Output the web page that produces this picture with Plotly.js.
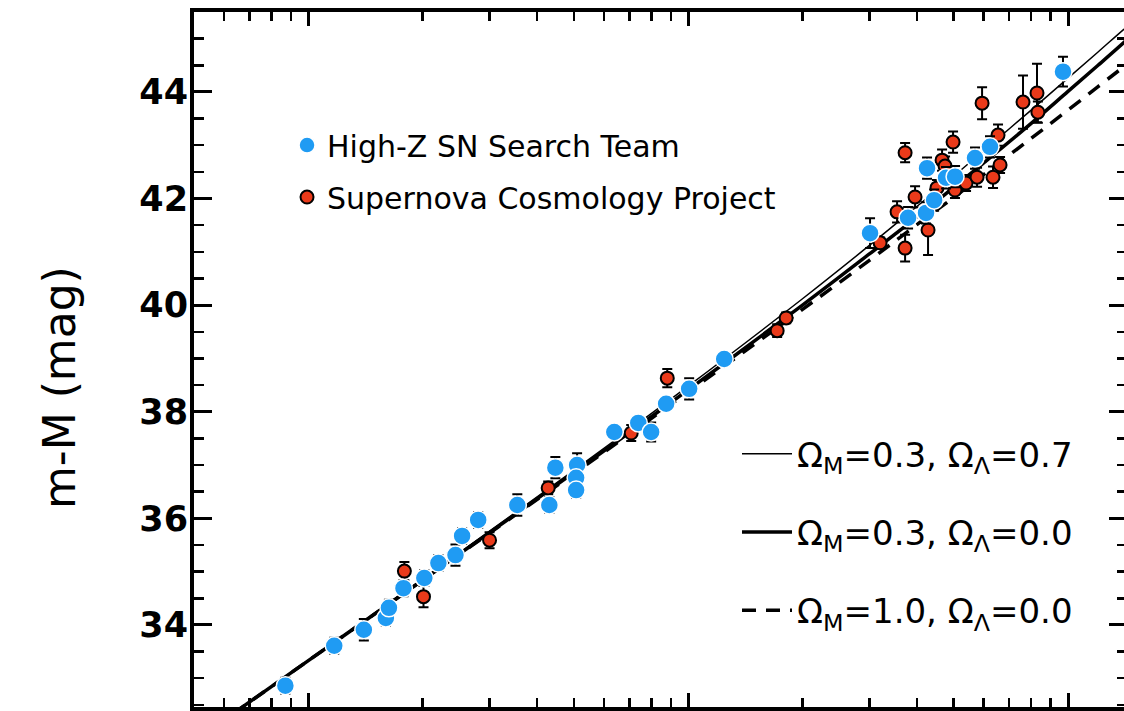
<!DOCTYPE html>
<html>
<head>
<meta charset="utf-8">
<script src="https://cdn.plot.ly/plotly-3.0.1.min.js"></script>
<style>
  html, body { margin: 0; padding: 0; overflow: hidden; background: #fff; }
  #chart { width: 1147px; height: 767px; }
</style>
</head>
<body>
<div id="chart"></div>
<script>
// High-Z SN Search Team: redshift, distance modulus, error
const hzZ   = [0.0087, 0.0117, 0.0140, 0.0160, 0.0163, 0.0178, 0.0202, 0.0220, 0.0244, 0.0254, 0.0280,
               0.0355, 0.0431, 0.0447, 0.0510, 0.0507, 0.0507, 0.0639, 0.0739, 0.0799, 0.0875, 0.1006,
               0.1244, 0.3012, 0.3793, 0.4229, 0.4441, 0.4255, 0.4775, 0.5043, 0.5691, 0.6232, 0.9701];
const hzMu  = [32.86, 33.61, 33.91, 34.13, 34.32, 34.69, 34.88, 35.16, 35.31, 35.67, 35.97,
               36.25, 36.25, 36.95, 37.00, 36.76, 36.53, 37.62, 37.79, 37.62, 38.15, 38.43,
               38.99, 41.35, 41.64, 41.73, 41.97, 42.57, 42.39, 42.41, 42.76, 42.97, 44.38];
const hzErr = [0.15, 0.15, 0.20, 0.15, 0.15, 0.15, 0.15, 0.15, 0.20, 0.15, 0.15,
               0.20, 0.15, 0.20, 0.22, 0.15, 0.15, 0.12, 0.12, 0.18, 0.12, 0.20,
               0.12, 0.28, 0.20, 0.20, 0.20, 0.20, 0.20, 0.20, 0.20, 0.20, 0.28];

// Supernova Cosmology Project: redshift, distance modulus, error
const scpZ   = [0.0179, 0.0201, 0.0300, 0.0428, 0.0708, 0.0881, 0.1715, 0.1811,
                0.3201, 0.3548, 0.3725, 0.3725, 0.3957, 0.4281, 0.4520, 0.4661, 0.4746, 0.4982,
                0.5040, 0.5390, 0.5762, 0.5940, 0.6348, 0.6543, 0.6624, 0.7613, 0.8287, 0.8331];
const scpMu  = [35.01, 34.53, 35.59, 36.57, 37.60, 38.63, 39.52, 39.76,
                41.17, 41.75, 42.86, 41.07, 42.03, 41.41, 42.20, 42.72, 42.61, 43.06,
                42.16, 42.29, 42.40, 43.79, 42.40, 43.19, 42.63, 43.81, 43.98, 43.62];
const scpErr = [0.17, 0.20, 0.15, 0.12, 0.15, 0.17, 0.12, 0.10,
                0.10, 0.20, 0.18, 0.25, 0.20, 0.47, 0.15, 0.20, 0.18, 0.20,
                0.15, 0.15, 0.18, 0.30, 0.20, 0.20, 0.15, 0.50, 0.55, 0.20];

// Model curves (distance modulus vs redshift)
const modelZ   = [0.005, 0.01, 0.02, 0.05, 0.1, 0.2, 0.3, 0.4, 0.5, 0.6, 0.8, 1.0, 1.2, 1.4, 1.6];
const lambdaMu = [31.82, 33.34, 34.86, 36.90, 38.48, 40.12, 41.12, 41.85, 42.42, 42.90, 43.66, 44.26, 44.75, 45.17, 45.52];
const openMu   = [31.82, 33.33, 34.84, 36.86, 38.41, 40.00, 40.96, 41.65, 42.21, 42.67, 43.41, 44.01, 44.50, 44.92, 45.30];
const edsMu    = [31.82, 33.33, 34.84, 36.84, 38.37, 39.92, 40.84, 41.51, 42.02, 42.45, 43.13, 43.66, 44.10, 44.47, 44.80];

const modelNames = [
  'Ω<sub>M</sub>=0.3, Ω<sub>Λ</sub>=0.7',
  'Ω<sub>M</sub>=0.3, Ω<sub>Λ</sub>=0.0',
  'Ω<sub>M</sub>=1.0, Ω<sub>Λ</sub>=0.0'
];

const xMajor = [0.01, 0.1, 1];
const xMinor = [0.006, 0.007, 0.008, 0.009, 0.02, 0.03, 0.04, 0.05, 0.06, 0.07, 0.08, 0.09,
                0.2, 0.3, 0.4, 0.5, 0.6, 0.7, 0.8, 0.9];

const blue = '#1f9bf3';
const red = '#ea3a1a';

const traces = [
  { x: modelZ, y: lambdaMu, mode: 'lines', name: modelNames[0], legend: 'legend2', legendgroup: 'm1',
    line: { color: 'black', width: 1.5, shape: 'spline' } },
  { x: modelZ, y: openMu, mode: 'lines', name: modelNames[1], legend: 'legend2', legendgroup: 'm2',
    line: { color: 'black', width: 3.5, shape: 'spline' } },
  { x: modelZ, y: edsMu, mode: 'lines', name: modelNames[2], legend: 'legend2', legendgroup: 'm3',
    line: { color: 'black', width: 3.5, dash: '14px,10px', shape: 'spline' } },
  { x: scpZ, y: scpMu, mode: 'markers', name: 'Supernova Cosmology Project', legendgroup: 'scp', legendrank: 2,
    error_y: { type: 'data', array: scpErr, color: 'black', thickness: 2, width: 5 },
    marker: { color: red, size: 13, line: { color: 'black', width: 2 } } },
  { x: hzZ, y: hzMu, mode: 'markers', name: 'High-Z SN Search Team', legendgroup: 'hz', legendrank: 1,
    error_y: { type: 'data', array: hzErr, color: 'black', thickness: 2, width: 5 },
    marker: { color: blue, size: 18, line: { color: 'white', width: 1.5 } } }
];

const layout = {
  width: 1147, height: 767,
  margin: { l: 194, r: 20, t: 12, b: 60 },
  paper_bgcolor: 'white', plot_bgcolor: 'white',
  font: { family: 'DejaVu Sans, sans-serif', color: 'black' },
  xaxis: {
    type: 'log', range: [Math.log10(0.005), Math.log10(1.43)],
    tickmode: 'array', tickvals: xMajor, showticklabels: false,
    ticks: 'inside', ticklen: 14, tickwidth: 3, tickcolor: 'black',
    minor: { tickmode: 'array', tickvals: xMinor, ticks: 'inside', ticklen: 9, tickwidth: 2.5, tickcolor: 'black' },
    showline: true, linewidth: 4, linecolor: 'black', mirror: 'allticks',
    showgrid: false, zeroline: false
  },
  yaxis: {
    range: [32.46, 45.5],
    tick0: 0, dtick: 2,
    ticks: 'inside', ticklen: 18, tickwidth: 3, tickcolor: 'black',
    minor: { dtick: 0.5, ticks: 'inside', ticklen: 10, tickwidth: 2.5, tickcolor: 'black' },
    tickfont: { family: 'DejaVu Sans, sans-serif', size: 35, color: 'black', weight: 'bold' },
    ticklabelstandoff: -5,
    showline: true, linewidth: 4, linecolor: 'black', mirror: 'allticks',
    showgrid: false, zeroline: false
  },
  showlegend: true,
  legend: {
    x: 0.0997, y: 0.846, xanchor: 'left', yanchor: 'top',
    bgcolor: 'rgba(0,0,0,0)', borderwidth: 0,
    font: { family: 'DejaVu Sans, sans-serif', size: 30, color: 'black' },
    traceorder: 'grouped', tracegroupgap: 10, itemsizing: 'trace'
  },
  legend2: {
    x: 0.582, y: 0.4055, xanchor: 'left', yanchor: 'top',
    bgcolor: 'rgba(0,0,0,0)', borderwidth: 0,
    font: { family: 'DejaVu Sans, sans-serif', size: 34, color: 'black' },
    traceorder: 'grouped', tracegroupgap: 31, itemwidth: 50
  },
  annotations: [{
    text: 'm-M (mag)', textangle: -90, showarrow: false,
    xref: 'paper', yref: 'paper', x: -0.1436, y: 0.459, xanchor: 'center', yanchor: 'middle',
    font: { family: 'DejaVu Sans, sans-serif', size: 44, color: 'black' }
  }]
};

Plotly.newPlot('chart', traces, layout, { displayModeBar: false, staticPlot: true });
</script>
</body>
</html>
